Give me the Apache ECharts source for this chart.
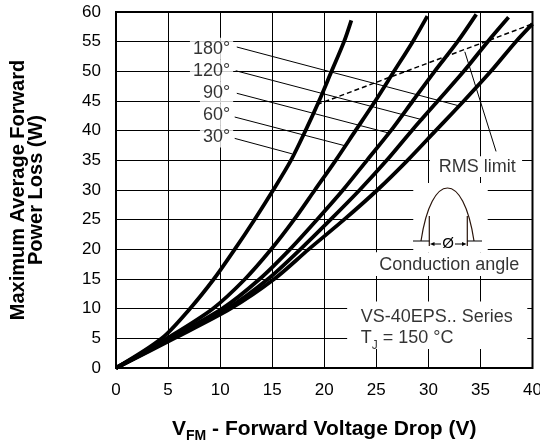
<!DOCTYPE html>
<html>
<head>
<meta charset="utf-8">
<script src="https://cdn.jsdelivr.net/npm/echarts@6/dist/echarts.min.js"></script>
<style>
  html, body { margin: 0; padding: 0; background: #fff; }
  #chart { width: 540px; height: 444px; }
</style>
</head>
<body>
<div id="chart"></div>
<script>
// conduction angles, one curve each
const angles = ['30°', '60°', '90°', '120°', '180°'];

// [V_FM, power loss]
const curve30 = [[0, 0], [4.4, 5], [7.1, 10], [9.4, 15], [11.4, 20], [13.3, 25], [15.1, 30], [16.8, 35], [18.2, 40], [19.5, 45], [20.7, 50], [21.9, 55], [22.6, 58.6]];
const curve60 = [[0, 0], [4.9, 5], [9.3, 10], [12.4, 15], [14.9, 20], [17.1, 25], [19.1, 30], [21.1, 35], [23.0, 40], [24.9, 45], [26.7, 50], [28.5, 55], [29.9, 59.3]];
const curve90 = [[0, 0], [5.2, 5], [10.2, 10], [13.8, 15], [16.7, 20], [19.3, 25], [21.8, 30], [24.1, 35], [26.4, 40], [28.5, 45], [30.6, 50], [32.8, 55], [34.6, 59.6]];
const curve120 = [[0, 0], [5.4, 5], [10.7, 10], [14.6, 15], [17.7, 20], [20.6, 25], [23.4, 30], [26.0, 35], [28.4, 40], [30.9, 45], [33.4, 50], [35.7, 55], [37.7, 59.1]];
const curve180 = [[0, 0], [5.6, 5], [11.0, 10], [15.2, 15], [18.5, 20], [21.9, 25], [25.1, 30], [28.0, 35], [30.7, 40], [33.4, 45], [36.0, 50], [38.4, 55], [40, 58]];
const rmsLimit = [[19.3, 44.4], [26.3, 49.0], [31.5, 52.4], [35.8, 55.2], [40, 58]];

// axis ranges / ticks
const xMin = 0, xMax = 40, xStep = 5;
const yMin = 0, yMax = 60, yStep = 5;

const font = '"Liberation Sans", Arial, Helvetica, sans-serif';
const curves = [curve30, curve60, curve90, curve120, curve180];

const chart = echarts.init(document.getElementById('chart'));

const curveSeries = curves.map((data, i) => ({
  name: angles[i],
  type: 'line',
  data: data,
  smooth: 0.3,
  symbol: 'none',
  silent: true,
  z: 5,
  lineStyle: { color: '#000', width: 3.8 }
}));

const sketchColor = '#2a140a';

chart.setOption({
  animation: false,
  backgroundColor: '#fff',
  textStyle: { fontFamily: font },
  grid: {
    left: 116, right: 7.5, top: 12, bottom: 76,
    containLabel: false,
    outerBoundsMode: 'none',
    show: true,
    borderColor: '#000',
    borderWidth: 2,
    backgroundColor: 'transparent'
  },
  xAxis: {
    type: 'value',
    min: xMin, max: xMax, interval: xStep,
    name: '{a|V}{s|FM}{a| - Forward Voltage Drop (V)}',
    nameLocation: 'middle',
    nameGap: 51,
    nameTextStyle: {
      rich: {
        a: { fontFamily: font, fontSize: 21, fontWeight: 'bold', color: '#000', lineHeight: 24, verticalAlign: 'top' },
        s: { fontFamily: font, fontSize: 14, fontWeight: 'bold', color: '#000', lineHeight: 16, padding: [10, 0, 0, 0], verticalAlign: 'top' }
      }
    },
    axisLine: { show: false },
    axisTick: { show: false },
    axisLabel: { color: '#000', fontSize: 17, fontFamily: font, margin: 14 },
    splitLine: { show: true, lineStyle: { color: '#000', width: 1 } }
  },
  yAxis: {
    type: 'value',
    min: yMin, max: yMax, interval: yStep,
    name: 'Maximum Average Forward\nPower Loss (W)',
    nameLocation: 'middle',
    nameRotate: 90,
    nameGap: 71,
    nameTextStyle: { color: '#000', fontSize: 20, fontWeight: 'bold', fontFamily: font, lineHeight: 18 },
    axisLine: { show: false },
    axisTick: { show: false },
    axisLabel: { color: '#000', fontSize: 17, fontFamily: font, margin: 15 },
    splitLine: { show: true, lineStyle: { color: '#000', width: 1 } }
  },
  series: [
    {
      // white boxes behind the notes, leader lines
      name: 'notes',
      type: 'line',
      data: [[0, 0]],
      symbol: 'none',
      silent: true,
      z: 2,
      lineStyle: { width: 0 },
      markArea: {
        silent: true,
        itemStyle: { color: '#fff' },
        data: [
          [{ coord: [30.15, 35.7] }, { coord: [39.0, 32.2] }],
          [{ coord: [28.55, 31.2] }, { coord: [35.7, 19.5] }],
          [{ coord: [24.6, 19.5] }, { coord: [39.4, 15.5] }],
          [{ coord: [22.2, 11.2] }, { coord: [39.5, 3.2] }]
        ]
      },
      markLine: {
        silent: true,
        symbol: ['none', 'none'],
        label: { show: false },
        lineStyle: { color: '#000', width: 1, type: 'solid' },
        data: [
          [{ coord: [11.6, 54.1] }, { coord: [32.9, 44.2] }],
          [{ coord: [11.5, 50.1] }, { coord: [29.5, 41.8] }],
          [{ coord: [11.6, 46.3] }, { coord: [26.2, 39.6] }],
          [{ coord: [11.4, 42.3] }, { coord: [21.9, 37.5] }],
          [{ coord: [11.4, 38.7] }, { coord: [16.9, 36.1] }],
          [{ coord: [33.5, 53.3] }, { coord: [36.5, 36.5] }]
        ]
      }
    },
    ...curveSeries,
    {
      name: 'RMS limit',
      type: 'line',
      data: rmsLimit,
      symbol: 'none',
      silent: true,
      z: 4,
      lineStyle: { color: '#000', width: 1.5, type: [5, 3] }
    },
    {
      // text notes
      name: 'labels',
      type: 'scatter',
      symbolSize: 1,
      silent: true,
      z: 6,
      itemStyle: { color: 'rgba(0,0,0,0)' },
      label: { show: true, color: '#000', fontSize: 18, fontFamily: font },
      data: [
        { value: [11.3, 53.8], label: { position: 'left', distance: 0, formatter: angles[4], backgroundColor: '#fff', padding: [2, 3] } },
        { value: [11.3, 50.1], label: { position: 'left', distance: 0, formatter: angles[3], backgroundColor: '#fff', padding: [2, 3] } },
        { value: [11.3, 46.4], label: { position: 'left', distance: 0, formatter: angles[2], backgroundColor: '#fff', padding: [2, 3] } },
        { value: [11.3, 42.7], label: { position: 'left', distance: 0, formatter: angles[1], backgroundColor: '#fff', padding: [2, 3] } },
        { value: [11.3, 39.0], label: { position: 'left', distance: 0, formatter: angles[0], backgroundColor: '#fff', padding: [2, 3] } },
        { value: [34.7, 33.8], label: { position: 'inside', formatter: 'RMS limit' } },
        { value: [32.0, 17.4], label: { position: 'inside', formatter: 'Conduction angle' } },
        { value: [23.46, 8.65], label: { position: 'right', distance: 0, formatter: 'VS-40EPS.. Series' } },
        {
          value: [23.46, 4.84],
          label: {
            position: 'right', distance: 0,
            formatter: '{a|T}{s|J}{a| = 150 °C}',
            rich: {
              a: { fontFamily: font, fontSize: 18, color: '#000', lineHeight: 20, verticalAlign: 'top' },
              s: { fontFamily: font, fontSize: 12, color: '#000', lineHeight: 12, padding: [10, 0, 0, 0], verticalAlign: 'top' }
            }
          }
        }
      ]
    }
  ],
  graphic: [
    // conduction angle sketch
    { type: 'bezierCurve', z: 20, silent: true, shape: { x1: 421, y1: 241, cpx1: 431.5, cpy1: 170.3, cpx2: 463.5, cpy2: 170.3, x2: 474, y2: 241 }, style: { fill: null, stroke: sketchColor, lineWidth: 1.2 } },
    { type: 'line', z: 20, silent: true, shape: { x1: 429.3, y1: 216, x2: 429.3, y2: 246 }, style: { stroke: sketchColor, lineWidth: 1.2 } },
    { type: 'line', z: 20, silent: true, shape: { x1: 467.3, y1: 216, x2: 467.3, y2: 246 }, style: { stroke: sketchColor, lineWidth: 1.2 } },
    { type: 'line', z: 20, silent: true, shape: { x1: 413, y1: 241, x2: 429.3, y2: 241 }, style: { stroke: '#000', lineWidth: 1 } },
    { type: 'line', z: 20, silent: true, shape: { x1: 467.3, y1: 241, x2: 482, y2: 241 }, style: { stroke: '#000', lineWidth: 1 } },
    { type: 'line', z: 20, silent: true, shape: { x1: 433, y1: 244, x2: 441, y2: 244 }, style: { stroke: '#000', lineWidth: 1 } },
    { type: 'polygon', z: 20, silent: true, shape: { points: [[430, 244], [434.5, 242], [434.5, 246]] }, style: { fill: '#000' } },
    { type: 'line', z: 20, silent: true, shape: { x1: 455, y1: 244, x2: 463.5, y2: 244 }, style: { stroke: '#000', lineWidth: 1 } },
    { type: 'polygon', z: 20, silent: true, shape: { points: [[466.5, 244], [462, 242], [462, 246]] }, style: { fill: '#000' } },
    { type: 'text', z: 20, silent: true, x: 448, y: 244, style: { text: 'Ø', fontSize: 15, fontFamily: font, fill: '#000', align: 'center', verticalAlign: 'middle' } }
  ]
});
</script>
</body>
</html>
